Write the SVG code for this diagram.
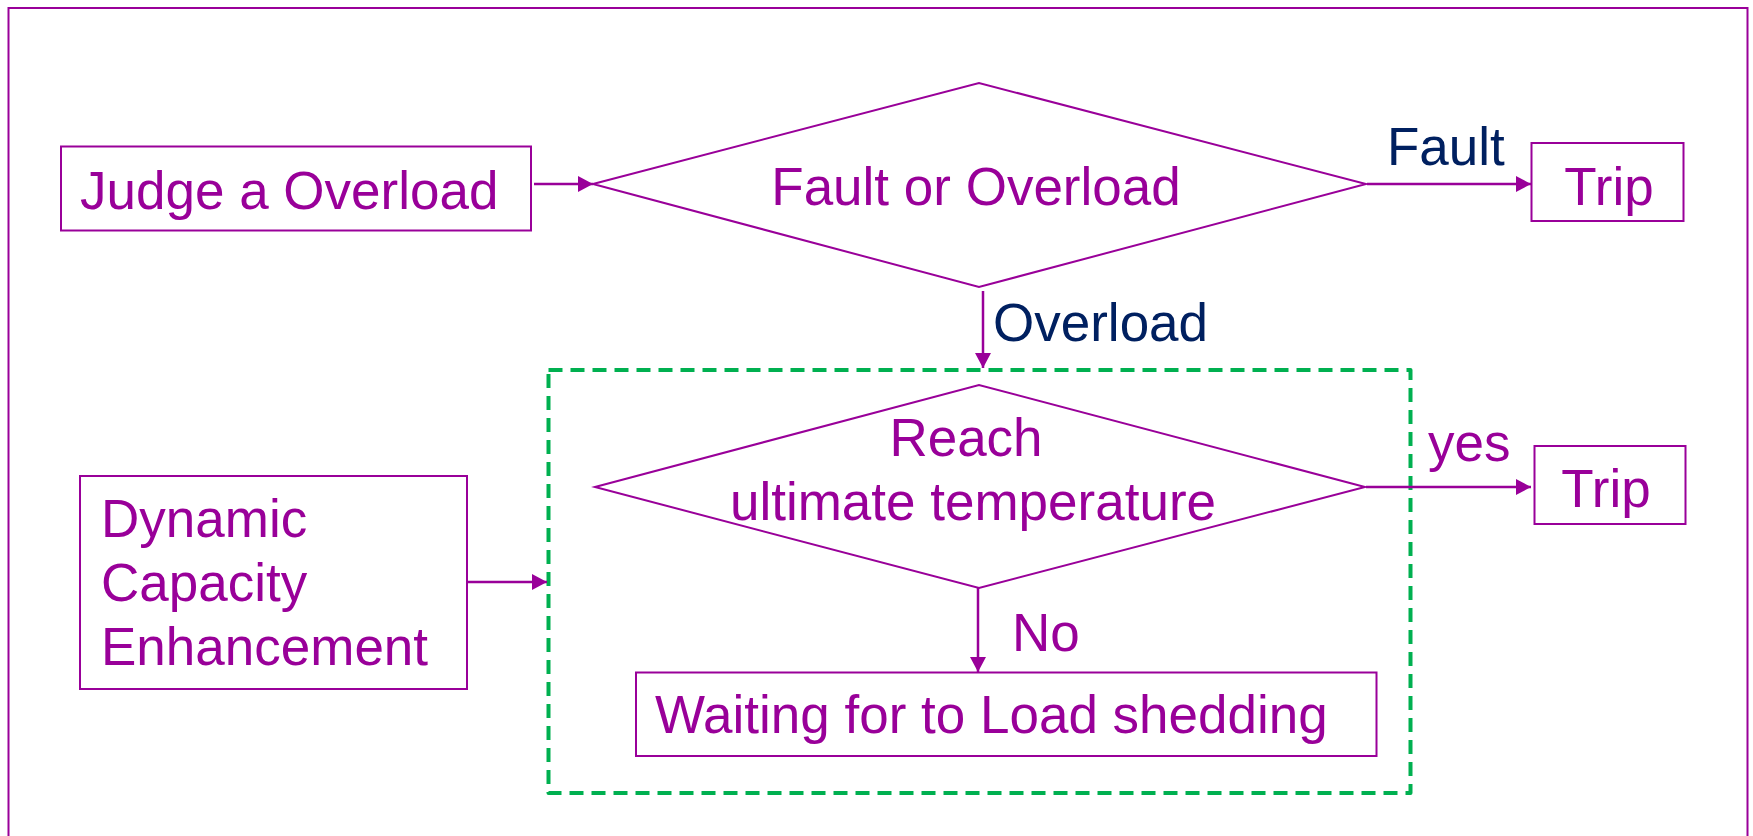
<svg xmlns="http://www.w3.org/2000/svg" width="1753" height="836" viewBox="0 0 1753 836">
<style>
.box{fill:#fff;stroke:#990099;stroke-width:2}
.dia{fill:#fff;stroke:#990099;stroke-width:2}
.t{font-family:"Liberation Sans",Arial,sans-serif;font-size:53px;fill:#990099}
.lbl{font-family:"Liberation Sans",Arial,sans-serif;font-size:53px;fill:#002060}
.lp{font-family:"Liberation Sans",Arial,sans-serif;font-size:53px;fill:#990099}
.c{stroke:#990099;stroke-width:2.5;fill:none}
</style>
<defs>
<marker id="ah" markerWidth="16" markerHeight="16" refX="15" refY="8" orient="auto" markerUnits="userSpaceOnUse">
<path d="M0,0 L15,8 L0,16 Z" fill="#990099"/>
</marker>
</defs>
<rect width="1753" height="836" fill="#fff"/>
<rect id="frame" x="8.5" y="8" width="1739" height="850" fill="none" stroke="#990099" stroke-width="2"/>
<g id="group-box">
<rect x="548.5" y="370" width="862" height="423" fill="none" stroke="#00B050" stroke-width="4" stroke-dasharray="14 8" stroke-linejoin="round"/>
</g>
<g id="connectors">
<line class="c" x1="534" y1="184" x2="593" y2="184" marker-end="url(#ah)"/>
<line class="c" x1="1367" y1="184" x2="1531" y2="184" marker-end="url(#ah)"/>
<line class="c" x1="983" y1="291" x2="983" y2="368" marker-end="url(#ah)"/>
<line class="c" x1="468" y1="582" x2="547" y2="582" marker-end="url(#ah)"/>
<line class="c" x1="1366" y1="487" x2="1531" y2="487" marker-end="url(#ah)"/>
<line class="c" x1="978" y1="588" x2="978" y2="672" marker-end="url(#ah)"/>
<text class="lbl" x="1387" y="165">Fault</text>
<text class="lbl" x="993" y="341">Overload</text>
<text class="lp" x="1428" y="461">yes</text>
<text class="lp" x="1012" y="651">No</text>
</g>
<g id="judge">
<rect class="box" x="61" y="146.5" width="470" height="84"/>
<text class="t" x="80" y="209">Judge a Overload</text>
</g>
<g id="fault-or-overload">
<polygon class="dia" points="593,184 979,83 1366,184 979,287"/>
<text class="t" x="976" y="205" text-anchor="middle">Fault or Overload</text>
</g>
<g id="trip1">
<rect class="box" x="1531.5" y="143" width="152" height="78"/>
<text class="t" x="1609" y="205" text-anchor="middle">Trip</text>
</g>
<g id="dynamic">
<rect class="box" x="80" y="476" width="387" height="213"/>
<text class="t" x="101" y="537">Dynamic</text>
<text class="t" x="101" y="601">Capacity</text>
<text class="t" x="101" y="665">Enhancement</text>
</g>
<g id="reach">
<polygon class="dia" points="595,487 979,385 1365,487 979,588"/>
<text class="t" x="966" y="456" text-anchor="middle">Reach</text>
<text class="t" x="973" y="520" text-anchor="middle">ultimate temperature</text>
</g>
<g id="trip2">
<rect class="box" x="1534.5" y="446" width="151" height="78"/>
<text class="t" x="1606" y="507" text-anchor="middle">Trip</text>
</g>
<g id="waiting">
<rect class="box" x="636" y="672.5" width="740.5" height="83.5"/>
<text class="t" x="655" y="733">Waiting for to Load shedding</text>
</g>
</svg>
